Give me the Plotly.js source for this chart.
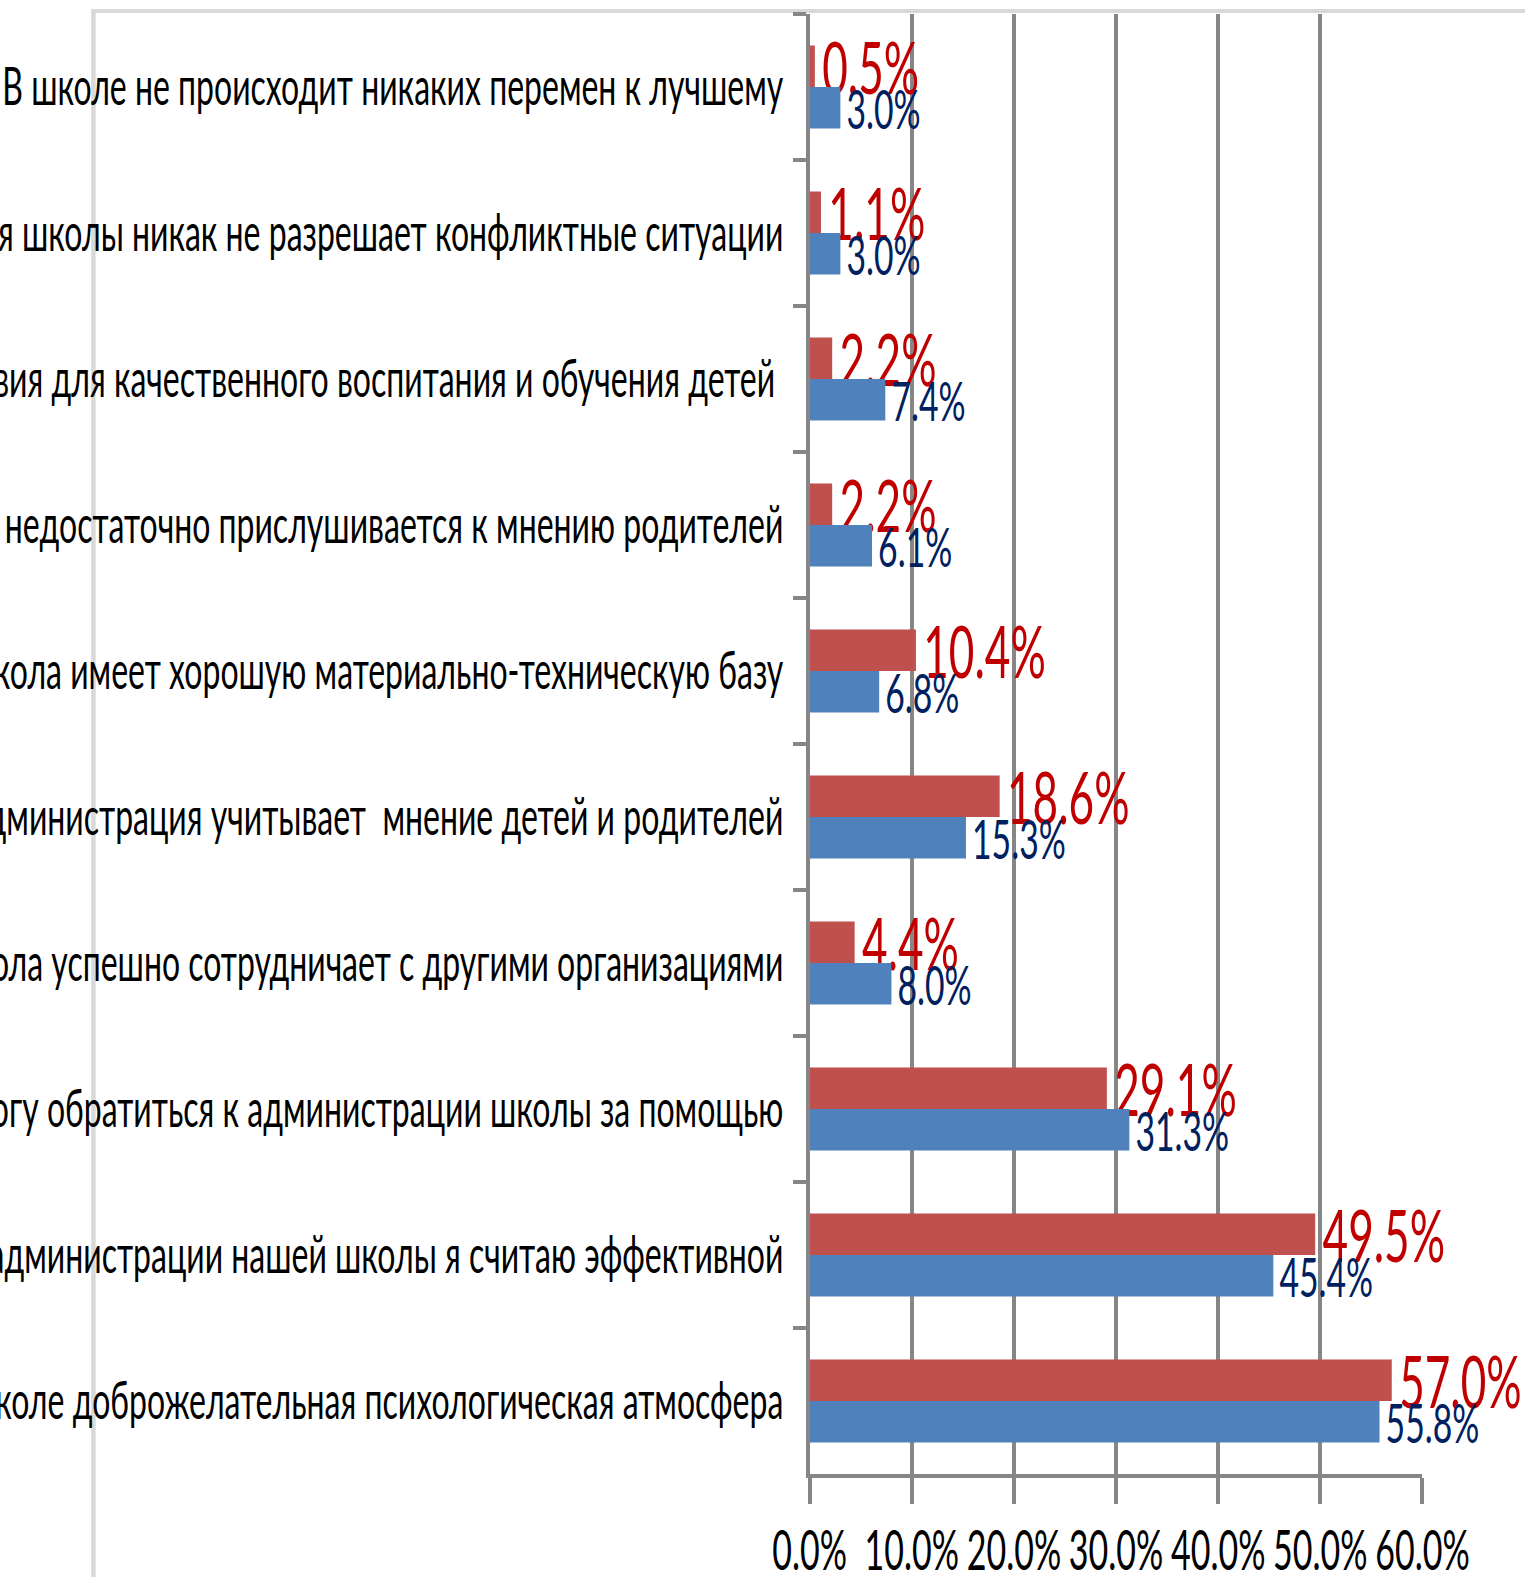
<!DOCTYPE html>
<html>
<head>
<meta charset="utf-8">
<script src="https://cdn.plot.ly/plotly-3.0.1.min.js"></script>
<style>
html,body{margin:0;padding:0;background:#ffffff;overflow:hidden;width:1525px;height:1577px;}
#chart{position:absolute;left:0;top:0;transform-origin:0 0;}
</style>
</head>
<body>
<div id="chart"></div>
<script>
// ---------- data ----------
const categories = [
  "В школе не происходит никаких перемен к лучшему",
  "Администрация школы никак не разрешает конфликтные ситуации",
  "В школе созданы все условия для качественного воспитания и обучения детей\u00A0",
  "Администрация школы недостаточно прислушивается к мнению родителей",
  "Школа имеет хорошую материально-техническую базу",
  "Администрация учитывает\u00A0 мнение детей и родителей",
  "Школа успешно сотрудничает с другими организациями",
  "Я всегда могу обратиться к администрации школы за помощью",
  "Работу администрации нашей школы я считаю эффективной",
  "В школе доброжелательная психологическая атмосфера"
];
const redValues  = [0.5, 1.1, 2.2, 2.2, 10.4, 18.6, 4.4, 29.1, 49.5, 57.0];
const blueValues = [3.0, 3.0, 7.4, 6.1, 6.8, 15.3, 8.0, 31.3, 45.4, 55.8];
const xTickValues = [0, 10, 20, 30, 40, 50, 60];
const xTickLabels = ["0.0%", "10.0%", "20.0%", "30.0%", "40.0%", "50.0%", "60.0%"];

// ---------- styling / geometry ----------
const NUMFONT = 'Lato, "Open Sans", "Noto Sans", sans-serif';
const CATFONT = 'Lato, "Open Sans", "Noto Sans", sans-serif';
const PAGE_W = 1525, PAGE_H = 1577;
const X0 = 810, X60 = 1422, PT = 14, PB = 1474;

const ctx = document.createElement('canvas').getContext('2d');
function meas(text, fam) {
  ctx.font = '100px ' + fam;
  const r = ctx.measureText(text);
  return {w: r.actualBoundingBoxLeft + r.actualBoundingBoxRight, h: r.actualBoundingBoxAscent};
}
const dH = meas('0', NUMFONT).h;
const cH = meas('В', CATFONT).h;
function fitS(text, fam, w, h, hRef) {
  const F = h * 100 / hRef;
  return w / (meas(text, fam).w * F / 100);
}
const sT = fitS('10.0%', NUMFONT, 88, 42, dH);
const sC = fitS(categories[0], CATFONT, 778, 33.5, cH);
const S = Math.pow(sT, 0.7) * Math.pow(sC, 0.3);
function fitF(text, fam, w, h, hRef, wWeight) {
  const Fh = h * 100 / hRef;
  const Fw = w * 100 / (S * meas(text, fam).w);
  return Math.pow(Fw, wWeight) * Math.pow(Fh, 1 - wWeight);
}
const fTick = fitF('10.0%', NUMFONT, 88, 42, dH, 0.5);
const fBlue = fitF('3.0%', NUMFONT, 69, 42, dH, 0.5);
const fRed  = fitF('10.4%', NUMFONT, 109, 57, dH, 0.5);
const fCat  = fitF(categories[0], CATFONT, 778, 33.5, cH, 1.0);

const WDIV = PAGE_W / S;
const mL = X0 / S;
const plotW = (X60 - X0) / S;
const mR = WDIV - mL - plotW;

const el = document.getElementById('chart');
el.style.width = WDIV + 'px';
el.style.height = PAGE_H + 'px';
el.style.transform = 'scaleX(' + S + ')';

function px(pageX) { return (pageX - X0) / (X60 - X0); }
function py(pageY) { return (PB - pageY) / (PB - PT); }

const GRID = '#868686';
const BORDER = '#D9D9D9';

const traces = [
  {
    type: 'bar', orientation: 'h', name: 'Серия 2',
    y: categories, x: redValues,
    marker: {color: '#C0504D'},
    texttemplate: '\u2009%{x:.1f}%', textposition: 'outside', textangle: 0,
    constraintext: 'none', cliponaxis: false,
    textfont: {family: NUMFONT, size: fRed, color: '#C00000'},
    hoverinfo: 'skip'
  },
  {
    type: 'bar', orientation: 'h', name: 'Серия 1',
    y: categories, x: blueValues,
    marker: {color: '#4F81BD'},
    texttemplate: '\u2009%{x:.1f}%', textposition: 'outside', textangle: 0,
    constraintext: 'none', cliponaxis: false,
    textfont: {family: NUMFONT, size: fBlue, color: '#002060'},
    hoverinfo: 'skip'
  }
];

const layout = {
  width: WDIV, height: PAGE_H,
  margin: {l: mL, r: mR, t: PT, b: PAGE_H - PB, pad: 0},
  paper_bgcolor: '#ffffff', plot_bgcolor: 'rgba(0,0,0,0)',
  showlegend: false,
  barmode: 'group', bargap: 0.432, bargroupgap: 0,
  font: {family: NUMFONT, color: '#000000'},
  xaxis: {
    range: [0, 60.001], tickvals: xTickValues, ticktext: xTickLabels, tickangle: 0,
    ticks: 'outside', ticklen: 26, tickwidth: 4 / S, tickcolor: GRID,
    showline: true, linewidth: 4, linecolor: GRID,
    showgrid: true, gridcolor: GRID, gridwidth: 4 / S, zeroline: false,
    tickfont: {family: NUMFONT, size: fTick, color: '#000000'},
    fixedrange: true
  },
  yaxis: {
    type: 'category', autorange: 'reversed', tickson: 'boundaries',
    ticks: 'outside', ticklen: 13 / S, tickwidth: 4, tickcolor: GRID,
    showline: true, linewidth: 4 / S, linecolor: GRID,
    showgrid: false, zeroline: false,
    ticksuffix: '\u2002',
    tickfont: {family: CATFONT, size: fCat, color: '#000000'},
    fixedrange: true
  },
  shapes: [
    {type: 'line', xref: 'paper', yref: 'paper', layer: 'below',
     x0: px(94.5), x1: px(94.5), y0: py(1620), y1: py(9),
     line: {color: BORDER, width: 4.5 / S}},
    {type: 'line', xref: 'paper', yref: 'paper', layer: 'below',
     x0: px(92.3), x1: px(1620), y0: py(11), y1: py(11),
     line: {color: BORDER, width: 4}}
  ]
};

Plotly.newPlot(el, traces, layout, {displayModeBar: false, staticPlot: true});
</script>
</body>
</html>
